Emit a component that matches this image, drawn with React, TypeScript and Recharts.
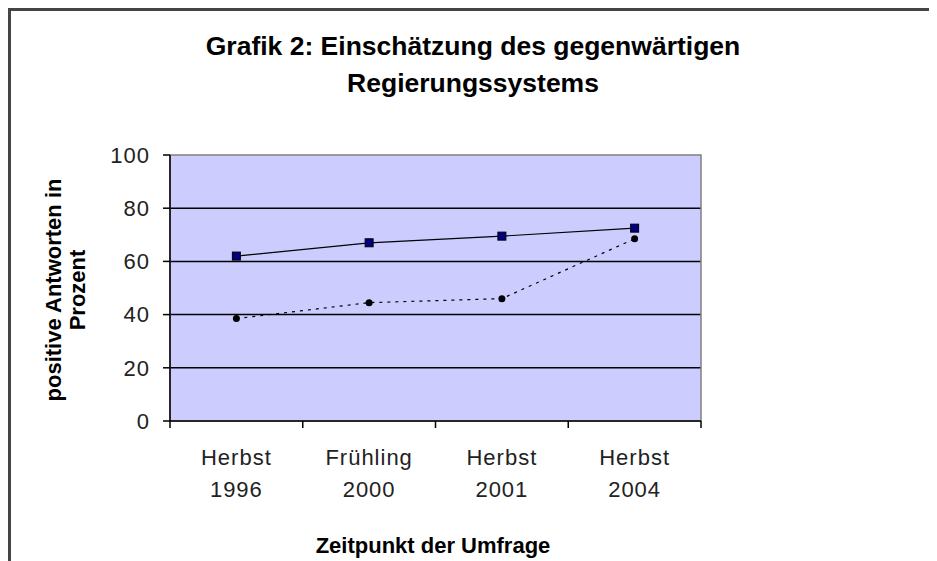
import React from "react";
import {
  LineChart,
  Line,
  XAxis,
  YAxis,
  CartesianGrid,
  ReferenceArea,
} from "recharts";

const seasons = ["Herbst", "Frühling", "Herbst", "Herbst"];
const years = ["1996", "2000", "2001", "2004"];
const seriesSolid = [62, 67, 69.5, 72.5];
const seriesDotted = [38.5, 44.5, 46, 68.5];
const yTicks = [0, 20, 40, 60, 80, 100];
const boundaryTicks = [0, 1, 2, 3, 4];

const data = seasons.map((s, i) => ({
  pos: i + 0.5,
  label: `${s}|${years[i]}`,
  solid: seriesSolid[i],
  dotted: seriesDotted[i],
}));

const FONT = "'Liberation Sans', Arial, sans-serif";
const EDGE = "a_edges";
const LABELS = "b_labels";

const CatTick = (props: any) => {
  const { x, y, payload } = props;
  const [a, b] = String(payload.value).split("|");
  return (
    <text
      x={x}
      y={y}
      textAnchor="middle"
      fontFamily={FONT}
      fontSize={22}
      letterSpacing={1}
      fill="#222"
    >
      <tspan x={x} dy={36}>
        {a}
      </tspan>
      <tspan x={x} dy={32}>
        {b}
      </tspan>
    </text>
  );
};

const SquareDot = (props: any) => {
  const { cx, cy } = props;
  if (cx == null || cy == null) return null;
  return (
    <rect
      x={cx - 4}
      y={cy - 4}
      width={8}
      height={8}
      fill="#000080"
      stroke="#000"
      strokeWidth={1}
    />
  );
};

const RoundDot = (props: any) => {
  const { cx, cy } = props;
  if (cx == null || cy == null) return null;
  return <circle cx={cx} cy={cy} r={3.5} fill="#000" stroke="none" />;
};

export default function App() {
  return (
    <div style={{ position: "relative", width: 929, height: 553, background: "#fff" }}>
      <div
        style={{
          position: "absolute",
          left: 0,
          top: 0,
          width: 929,
          height: 553,
          borderTop: "3px solid #454545",
          borderLeft: "3px solid #454545",
          boxSizing: "border-box",
        }}
      />
      <div
        style={{
          position: "absolute",
          left: 65,
          top: 20,
          width: 800,
          textAlign: "center",
          fontFamily: FONT,
          fontWeight: "bold",
          fontSize: 26.5,
          lineHeight: "37px",
          color: "#000",
        }}
      >
        Grafik 2: Einschätzung des gegenwärtigen
        <br />
        Regierungssystems
      </div>
      <div
        style={{
          position: "absolute",
          left: 58,
          top: 282,
          transform: "translate(-50%, -50%) rotate(-90deg)",
          fontFamily: FONT,
          fontWeight: "bold",
          fontSize: 22,
          lineHeight: "24px",
          textAlign: "center",
          whiteSpace: "nowrap",
          color: "#000",
        }}
      >
        positive Antworten in
        <br />
        Prozent
      </div>
      <div
        style={{
          position: "absolute",
          left: 225,
          width: 400,
          top: 524,
          textAlign: "center",
          fontFamily: FONT,
          fontWeight: "bold",
          fontSize: 22,
          lineHeight: "28px",
          color: "#000",
        }}
      >
        Zeitpunkt der Umfrage
      </div>
      <div style={{ position: "absolute", left: 0, top: 0 }}>
        <LineChart
          width={929}
          height={553}
          data={data}
          margin={{ top: 147, right: 236, left: 92, bottom: 62 }}
        >
          <CartesianGrid
            horizontal={true}
            vertical={false}
            fill="#CCCCFF"
            fillOpacity={1}
            stroke="#000"
            strokeWidth={1.5}
            horizontalValues={[20, 40, 60, 80]}
            xAxisId={EDGE}
          />
          <ReferenceArea
            xAxisId={EDGE}
            x1={0}
            x2={4}
            y1={0}
            y2={100}
            fill="none"
            stroke="#808080"
            strokeWidth={1.5}
            ifOverflow="visible"
          />
          <XAxis
            xAxisId={EDGE}
            type="number"
            dataKey="pos"
            domain={[0, 4]}
            ticks={boundaryTicks}
            tickFormatter={() => ""}
            tickSize={7}
            height={8}
            axisLine={{ stroke: "#000", strokeWidth: 1.5 }}
            tickLine={{ stroke: "#000", strokeWidth: 1.5 }}
            allowDataOverflow
          />
          <XAxis
            xAxisId={LABELS}
            type="category"
            dataKey="label"
            scale="band"
            interval={0}
            axisLine={false}
            tickLine={false}
            tickSize={0}
            tickMargin={0}
            height={70}
            tick={<CatTick />}
          />
          <YAxis
            type="number"
            domain={[0, 100]}
            ticks={yTicks}
            width={70}
            tickSize={7}
            tickMargin={13}
            axisLine={{ stroke: "#000", strokeWidth: 1.5 }}
            tickLine={{ stroke: "#000", strokeWidth: 1.5 }}
            tick={{ fill: "#222", fontSize: 22, fontFamily: FONT, letterSpacing: 1 }}
          />
          <Line
            xAxisId={EDGE}
            type="linear"
            dataKey="solid"
            name="Reihe 1"
            stroke="#000"
            strokeWidth={1.2}
            dot={<SquareDot />}
            activeDot={false}
            isAnimationActive={false}
          />
          <Line
            xAxisId={EDGE}
            type="linear"
            dataKey="dotted"
            name="Reihe 2"
            stroke="#000"
            strokeWidth={1.2}
            strokeDasharray="3 5"
            dot={<RoundDot />}
            activeDot={false}
            isAnimationActive={false}
          />
        </LineChart>
      </div>
    </div>
  );
}
